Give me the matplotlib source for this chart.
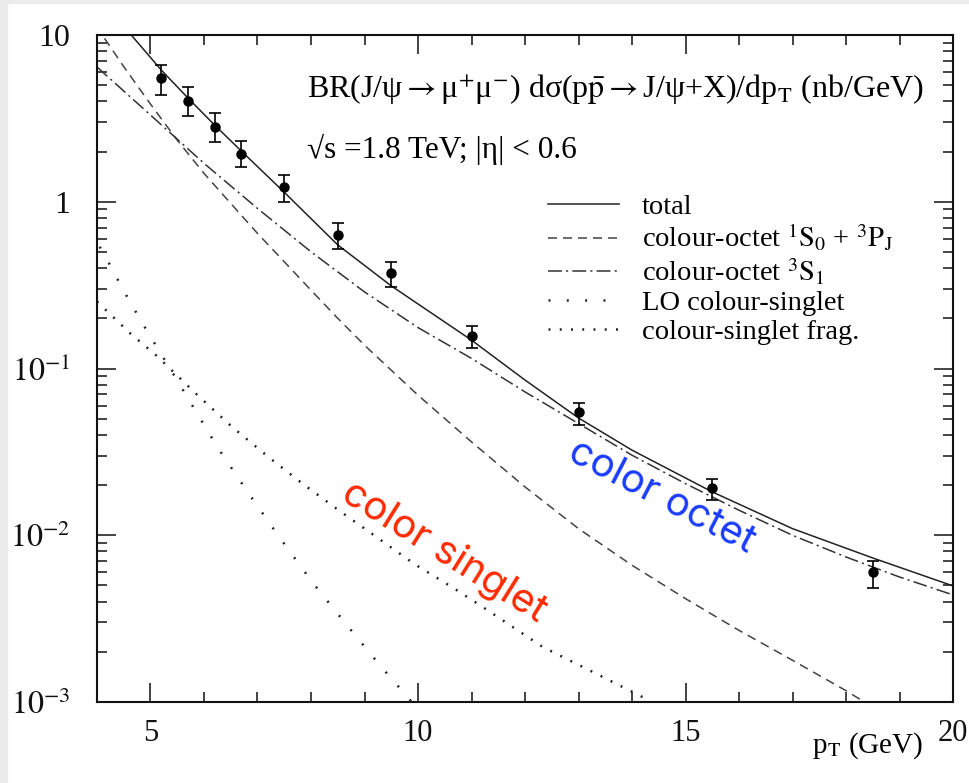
import math
import matplotlib.pyplot as plt
from matplotlib.patches import Rectangle
from matplotlib.ticker import FixedLocator, FuncFormatter, NullFormatter

plt.rcParams['font.family'] = ['Liberation Serif', 'DejaVu Serif']
plt.rcParams['mathtext.fontset'] = 'stix'
plt.rcParams['lines.scale_dashes'] = False

# CDF J/psi data points (nb/GeV) with error bar ends
pt_data = [5.2, 5.7, 6.2, 6.7, 7.5, 8.5, 9.5, 11.0, 13.0, 15.5, 18.5]
sigma_data = [5.50, 4.04, 2.82, 1.93, 1.22, 0.63, 0.376, 0.157, 0.0552, 0.0191, 0.0060]
sigma_up = [6.6, 4.85, 3.39, 2.31, 1.45, 0.743, 0.437, 0.180, 0.0625, 0.0217, 0.00705]
sigma_down = [4.37, 3.27, 2.29, 1.61, 1.00, 0.519, 0.309, 0.132, 0.0458, 0.0163, 0.00482]

# theory curves
pt_total = [4.64, 5.2, 5.7, 6.2, 6.7, 7.5, 8.5, 9.5, 11.0, 12.0, 13.0, 14.0, 15.5, 17.0, 18.5, 20.0]
total = [10.0, 6.17, 4.19, 2.88, 2.01, 1.14, 0.551, 0.313, 0.148, 0.0853, 0.0505, 0.0324,
         0.0182, 0.01096, 0.00731, 0.00497]

pt_1s0 = [4.14, 4.5, 5.0, 5.5, 6.0, 6.5, 7.0, 7.5, 8.0, 8.5, 9.0, 9.5, 10.0, 11.0, 12.0,
          13.0, 14.0, 15.0, 16.0, 17.0, 18.0, 18.5]
octet_1s0 = [9.55, 6.46, 3.85, 2.34, 1.48, 0.977, 0.646, 0.437, 0.295, 0.200, 0.138, 0.0977,
             0.0692, 0.0363, 0.0195, 0.01096, 0.00661, 0.00417, 0.00269, 0.00178, 0.00117, 0.00093]

pt_3s1 = [4.0, 5.0, 6.0, 7.0, 8.0, 9.0, 10.0, 11.0, 12.0, 13.0, 14.0, 15.0, 16.0, 17.0,
          18.0, 19.0, 20.0]
octet_3s1 = [6.43, 3.31, 1.70, 0.912, 0.501, 0.288, 0.176, 0.115, 0.0724, 0.0468, 0.0302,
             0.0204, 0.01413, 0.0100, 0.00741, 0.00562, 0.00439]

pt_lo = [4.05, 4.17, 4.49, 4.83, 5.54, 6.25, 6.82, 7.41, 8.02, 8.66, 9.31, 9.85, 10.0]
lo_singlet = [0.537, 0.461, 0.296, 0.191, 0.0807, 0.0338, 0.0181, 0.00973, 0.00525,
              0.00292, 0.00163, 0.00103, 0.00087]

pt_frag = [4.0, 4.62, 5.12, 5.89, 6.52, 7.18, 7.85, 8.54, 9.23, 9.93, 10.67, 11.2, 12.33,
           13.33, 14.2, 14.45]
singlet_frag = [0.252, 0.1626, 0.1189, 0.0687, 0.0448, 0.0299, 0.0203, 0.01396, 0.00973,
                0.00673, 0.00481, 0.00373, 0.00214, 0.00148, 0.00107, 0.00095]

fig = plt.figure(figsize=(9.69, 7.83), dpi=100)
# light grey frame at left / top of the screenshot
fig.add_artist(Rectangle((0, 0), 7 / 969, 1, transform=fig.transFigure, color='#ececec', zorder=0))
fig.add_artist(Rectangle((0, 780 / 783), 1, 3 / 783, transform=fig.transFigure, color='#ececec', zorder=0))

ax = fig.add_axes([0.1001, 0.1034, 0.8834, 0.8519])

ax.plot(pt_total, total, color='#222222', lw=1.1, label='total')
ax.plot(pt_1s0, octet_1s0, color='#444444', lw=1.1, dashes=(6.5, 4.3),
        label=r'colour-octet ${}^{1}\mathrm{S}_{0}$ + ${}^{3}\mathrm{P}_{\mathrm{J}}$')
ax.plot(pt_3s1, octet_3s1, color='#333333', lw=1.1, dashes=(10, 3, 1.5, 3),
        label=r'colour-octet ${}^{3}\mathrm{S}_{1}$')
ax.plot(pt_lo, lo_singlet, color='#222222', lw=1.8, dashes=(1.4, 11.8), label='LO colour-singlet')
ax.plot(pt_frag, singlet_frag, color='#222222', lw=1.8, dashes=(1.4, 6.7), label='colour-singlet frag.')

err_lo = [s - d for s, d in zip(sigma_data, sigma_down)]
err_hi = [u - s for s, u in zip(sigma_data, sigma_up)]
ax.errorbar(pt_data, sigma_data, yerr=[err_lo, err_hi], fmt='o', color='black', ms=6.5,
            capsize=4, elinewidth=1.2, capthick=1.2)

ax.set_yscale('log')
ax.set_xlim(4, 20)
ax.set_ylim(1e-3, 10)

ax.xaxis.set_major_locator(FixedLocator([5, 10, 15, 20]))
ax.xaxis.set_minor_locator(FixedLocator(range(4, 21)))
ax.xaxis.set_minor_formatter(NullFormatter())
ax.yaxis.set_major_locator(FixedLocator([1e-3, 1e-2, 1e-1, 1, 10]))
ax.yaxis.set_minor_locator(FixedLocator([m * 10.0 ** e for e in range(-3, 1) for m in range(2, 10)]))
ax.yaxis.set_minor_formatter(NullFormatter())


def ylab(v, pos):
    if v >= 9:
        return '10'
    if v >= 0.9:
        return '1'
    return r'$10^{%d}$' % round(math.log10(v))


ax.yaxis.set_major_formatter(FuncFormatter(ylab))
ax.tick_params(which='both', direction='in', top=True, right=True, width=1.1, colors='#111111')
ax.tick_params(which='major', length=14)
ax.tick_params(which='minor', length=7.5)
ax.tick_params(axis='x', which='major', labelsize=22, pad=12)
ax.tick_params(axis='y', which='major', labelsize=23, pad=19)
for s in ax.spines.values():
    s.set_linewidth(1.5)
    s.set_color('#111111')

ax.set_xlabel(r'p$_{\mathrm{T}}$ (GeV)', fontsize=21)
ax.xaxis.set_label_coords(0.965, -0.042)
ax.xaxis.label.set_horizontalalignment('right')

ax.text(0.245, 0.9175,
        r'BR(J/ψ$\rightarrow$μ$^{+}$μ$^{-}$) dσ(p$\bar{\mathrm{p}}$$\rightarrow$J/ψ+X)/dp$_{\mathrm{T}}$ (nb/GeV)',
        transform=ax.transAxes, ha='left', va='center', fontsize=23)
ax.text(0.245, 0.828, '√s =1.8 TeV; |η| < 0.6', transform=ax.transAxes, ha='left', va='center',
        fontsize=22.5)

ax.legend(loc='upper left', bbox_to_anchor=(0.527, 0.762), frameon=False, fontsize=20.5,
          handlelength=2.5, handletextpad=0.8, labelspacing=0.1, borderpad=0, borderaxespad=0)

ax.text(14.55, 0.01694, 'color octet', color='#1a3cff', family='Inter', fontsize=29,
        rotation=-27.5, rotation_mode='anchor', ha='center', va='center')
ax.text(10.49, 0.00794, 'color singlet', color='#ff2a00', family='Inter', fontsize=29,
        rotation=-32, rotation_mode='anchor', ha='center', va='center')

fig.savefig('out.png', dpi=100)
